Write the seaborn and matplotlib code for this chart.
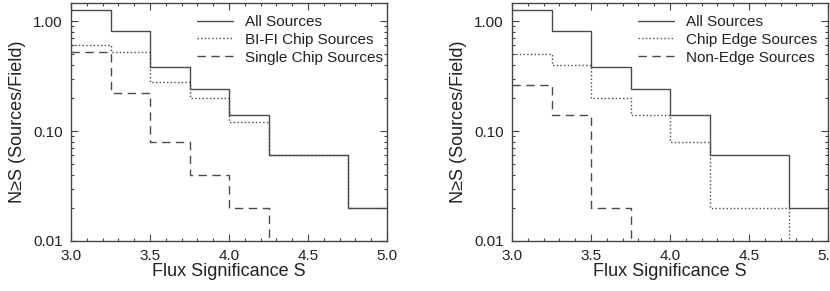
import numpy as np
import pandas as pd
import seaborn as sns
import matplotlib.pyplot as plt
from matplotlib.ticker import FixedLocator, MultipleLocator, LogLocator, NullFormatter

# --- DATOS ---
# bordes izquierdos de cada bin de significancia (el ultimo punto cierra el escalon en 5.0)
s_edges = [3.0, 3.25, 3.5, 3.75, 4.0, 4.25, 4.5, 4.75, 5.0]

all_sources = [1.26, 0.82, 0.38, 0.24, 0.14, 0.06, 0.06, 0.02, 0.02]
bifi_sources = [0.60, 0.52, 0.28, 0.20, 0.12, 0.06, 0.06, 0.02, 0.02]
single_chip = [0.52, 0.22, 0.08, 0.04, 0.02, 0.0, 0.0, 0.0, 0.0]

edge_sources = [0.50, 0.40, 0.20, 0.14, 0.08, 0.02, 0.02, 0.0, 0.0]
non_edge = [0.26, 0.14, 0.02, 0.0, 0.0, 0.0, 0.0, 0.0, 0.0]

panels = [
    [("All Sources", all_sources, "-"),
     ("BI-FI Chip Sources", bifi_sources, ":"),
     ("Single Chip Sources", single_chip, (0, (6, 4)))],
    [("All Sources", all_sources, "-"),
     ("Chip Edge Sources", edge_sources, ":"),
     ("Non-Edge Sources", non_edge, (0, (6, 4)))],
]

x_ticks = [3.0, 3.5, 4.0, 4.5, 5.0]
y_ticks = [0.01, 0.10, 1.00]
y_labels = ["0.01", "0.10", "1.00"]

# --- ESTILO ---
sns.set_style("ticks")
plt.rcParams['font.family'] = ['Liberation Sans', 'DejaVu Sans']
frame_color = "#444444"
line_color = "#4a4a4a"
text_color = "#222222"
fs = 11
fs_label = 13

fig = plt.figure(figsize=(8.30, 2.91), dpi=100)
axes = [fig.add_axes([71 / 830, 50 / 291, 316 / 830, 238 / 291]),
        fig.add_axes([512 / 830, 50 / 291, 316 / 830, 238 / 291])]

for ax, series in zip(axes, panels):
    for label, values, ls in series:
        df = pd.DataFrame({"S": s_edges, "N": values})
        sns.lineplot(data=df, x="S", y="N", ax=ax, drawstyle="steps-post",
                     color=line_color, linestyle=ls, linewidth=1.0,
                     label=label, estimator=None)

    ax.set_yscale("log")
    ax.set_xlim(3.0, 5.0)
    ax.set_ylim(0.01, 1.46)

    ax.xaxis.set_major_locator(FixedLocator(x_ticks))
    ax.xaxis.set_minor_locator(MultipleLocator(0.1))
    ax.set_xticklabels([f"{t:.1f}" for t in x_ticks])
    ax.yaxis.set_major_locator(FixedLocator(y_ticks))
    ax.yaxis.set_minor_locator(LogLocator(base=10, subs=np.arange(2, 10)))
    ax.yaxis.set_minor_formatter(NullFormatter())
    ax.set_yticklabels(y_labels)

    ax.tick_params(which="both", direction="in", top=True, right=True,
                   color=frame_color, width=0.8, labelsize=fs,
                   labelcolor=text_color, pad=6)
    ax.tick_params(which="major", length=5)
    ax.tick_params(which="minor", length=2.5)
    for sp in ax.spines.values():
        sp.set_visible(True)
        sp.set_color(frame_color)
        sp.set_linewidth(1.0)

    ax.set_xlabel("Flux Significance S", fontsize=fs_label, color=text_color, labelpad=0)
    ax.set_ylabel("N≥S (Sources/Field)", fontsize=fs_label, color=text_color, labelpad=5)

    # leyenda anclada por la izquierda, como en el original
    leg = ax.legend(loc="upper left", bbox_to_anchor=(0.40, 0.95), frameon=False,
                    fontsize=fs, handlelength=2.3, handletextpad=0.8,
                    labelspacing=0.25, borderpad=0, borderaxespad=0)
    for txt in leg.get_texts():
        txt.set_color(text_color)

fig.savefig("out.png", dpi=100)
